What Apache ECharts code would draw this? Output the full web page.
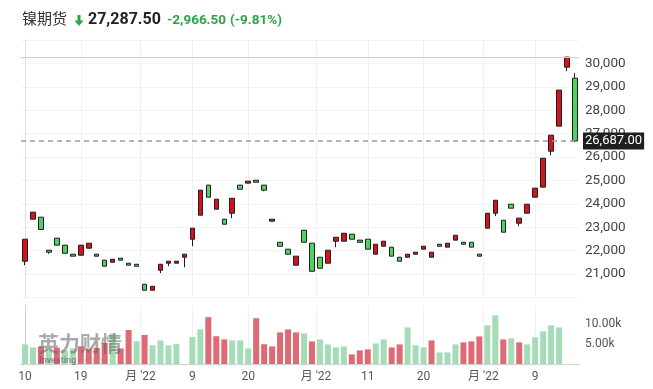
<!DOCTYPE html>
<html>
<head>
<meta charset="utf-8">
<script src="https://cdn.jsdelivr.net/npm/echarts@6/dist/echarts.min.js"></script>
<style>
  html, body { margin: 0; padding: 0; background: #fff; }
  #chart { width: 653px; height: 389px; }
</style>
</head>
<body>
<div id="chart"></div>
<script>
// 日线 OHLC（红涨绿跌）
const openPrices = [
  21550, 23345, 23430, 22020, 22535, 22235, 21850, 21805, 22105, 21850,
  21595, 21505, 21680, 21465, 21420, 20565, 20310, 21165, 21465, 21465,
  21720, 22490, 23515, 24800, 23770, 23345, 23600, 24800, 24885, 25010,
  24800, 23260, 22360, 22065, 21380, 22875, 22320, 21720, 21465, 22405,
  22405, 22705, 22450, 22490, 21850, 22190, 22150, 21720, 21720, 21850,
  22065, 21720, 22275, 22150, 22450, 22360, 22360, 21850, 22960, 23600,
  23300, 23985, 23175, 23600, 24285, 24715, 26250, 27320, 29840, 29370
];
const closePrices = [
  22490, 23645, 22905, 21935, 22235, 21890, 21765, 22235, 22320, 21765,
  21335, 21635, 21595, 21380, 21335, 20310, 20480, 21420, 21550, 21550,
  21850, 22960, 24585, 24285, 24200, 23130, 24240, 24625, 24970, 24925,
  24585, 23345, 22190, 21850, 21765, 22360, 21120, 21250, 22020, 22575,
  22745, 22490, 22360, 22065, 22275, 22405, 21765, 21550, 21850, 21935,
  22190, 21935, 22190, 22320, 22660, 22275, 22150, 21765, 23600, 24155,
  22790, 23815, 23390, 23985, 24670, 25950, 26935, 28860, 30270, 26687
];
const lowPrices = [
  21380, 23345, 22905, 21870, 22235, 21890, 21765, 21805, 22105, 21765,
  21335, 21505, 21595, 21380, 21335, 20310, 20310, 21040, 21335, 21465,
  21295, 22190, 23515, 24285, 23770, 23130, 23390, 24625, 24885, 24925,
  24540, 23260, 22190, 21850, 21380, 22360, 21120, 21250, 21465, 22150,
  22405, 22490, 22360, 22065, 21850, 22190, 21765, 21550, 21720, 21850,
  22065, 21720, 22190, 22150, 22450, 22275, 22150, 21765, 22960, 23475,
  22790, 23815, 23045, 23600, 24285, 24715, 26080, 27320, 29670, 26635
];
const highPrices = [
  22490, 23645, 23430, 22020, 22535, 22235, 21850, 22235, 22320, 21850,
  21595, 21635, 21680, 21465, 21420, 20565, 20480, 21420, 21550, 21550,
  21850, 22960, 24585, 24800, 24200, 23345, 24240, 24800, 24970, 25010,
  24800, 23345, 22360, 22065, 21765, 22875, 22320, 21720, 22020, 22575,
  22745, 22705, 22450, 22490, 22275, 22405, 22150, 21720, 21850, 21935,
  22190, 21935, 22275, 22320, 22660, 22360, 22360, 21850, 23600, 24155,
  23300, 23985, 23390, 23985, 24670, 25950, 26935, 28860, 30270, 29585
];
const volumes = [
  4900, 4150, 4300, 3600, 4000, 3400, 3900, 4400, 3800, 4000,
  5250, 7650, 3900, 8500, 5650, 7250, 4650, 5900, 4650, 5000,
  null, 6750, 8650, 11700, 6950, 6150, 5900, 5900, 3900, 11450,
  4950, 4400, 7900, 8650, 7900, 7650, 5650, 6150, 4900, 4150,
  4400, 2400, 3400, 3650, 5150, 6150, 4150, 4900, 9150, 4650,
  4150, 5900, 2900, 2900, 4900, 5400, 5650, 6900, 9650, 12150,
  6150, 6400, 5400, 4900, 6650, 8150, 9650, 9150, null, null
];
// 1 = 红, 0 = 绿
const volumeUp = [
  0, 0, 1, 0, 1, 0, 0, 1, 1, 1,
  1, 0, 1, 1, 0, 1, 0, 0, 0, 0,
  0, 0, 0, 1, 1, 1, 0, 0, 0, 1,
  1, 1, 1, 1, 1, 0, 1, 0, 0, 0,
  0, 1, 1, 1, 0, 0, 1, 1, 0, 0,
  0, 1, 0, 0, 0, 1, 1, 1, 0, 0,
  1, 0, 1, 0, 0, 0, 0, 0, 0, 0
];
const tickPositions = [0, 7, 14.5, 21, 28, 36.5, 43, 50, 57.5, 64];
const tickLabels = ['10', '19', "月 '22", '9', '20', "月 '22", '11', '20', "月 '22", '9'];
const lastPrice = 26687;
const prevClose = 30254;

const categories = openPrices.map((_, i) => String(i));
const UP = '#d3141f';
const DOWN = '#4fd25f';
const VOL_UP = '#e06a73';
const VOL_DOWN = '#a6dbb8';
const GREEN_TXT = '#2ea447';
const FONT = 'Roboto, "Noto Sans CJK SC", sans-serif';

const chart = echarts.init(document.getElementById('chart'));

const option = {
  animation: false,
  textStyle: { fontFamily: FONT },
  graphic: [
    { type: 'text', left: 22, top: 11, style: { text: '镍期货', font: '15px "Noto Sans CJK SC", sans-serif', fill: '#333' } },
    {
      type: 'polygon',
      shape: { points: [[77.5, 15], [80.5, 15], [80.5, 20.5], [83.5, 20.5], [79, 26], [74.5, 20.5], [77.5, 20.5]] },
      style: { fill: GREEN_TXT }
    },
    { type: 'text', left: 88, top: 12, style: { text: '27,287.50', font: 'bold 16px Roboto, sans-serif', fill: '#222' } },
    { type: 'text', left: 167, top: 14, style: { text: '-2,966.50', font: 'bold 13.5px Roboto, sans-serif', fill: GREEN_TXT } },
    { type: 'text', left: 230, top: 14, style: { text: '(-9.81%)', font: 'bold 13.5px Roboto, sans-serif', fill: GREEN_TXT } },
    // 水印
    { type: 'text', left: 38, top: 333, z: 10, style: { text: '英力财情', font: 'bold 21px "Noto Sans CJK SC", sans-serif', fill: 'rgba(100,100,100,0.55)' } },
    { type: 'text', left: 39, top: 356, z: 10, style: { text: 'Investing', font: 'bold 9px Roboto, sans-serif', fill: 'rgba(90,90,90,0.6)' } },
    { type: 'text', left: 82, top: 356, z: 10, style: { text: '.com', font: '9px Roboto, sans-serif', fill: 'rgba(150,150,150,0.5)' } }
  ],
  grid: [
    { left: 21, right: 74, top: 40, height: 257.5 },
    { left: 21, right: 74, top: 305, height: 59 }
  ],
  xAxis: [
    { type: 'category', gridIndex: 0, data: categories, show: false },
    {
      type: 'value', gridIndex: 0, min: -0.5, max: 69.5,
      axisLine: { show: false },
      axisTick: { show: false, customValues: tickPositions },
      axisLabel: { show: false, customValues: tickPositions },
      splitLine: { show: true, lineStyle: { color: '#f1f1f1' } }
    },
    {
      type: 'category', gridIndex: 1, data: categories, position: 'top',
      axisLine: { show: true, lineStyle: { color: '#d0d0d0' } },
      axisTick: { show: false }, axisLabel: { show: false }
    },
    {
      type: 'value', gridIndex: 1, min: -0.5, max: 69.5, position: 'bottom',
      axisLine: { show: true, onZero: false, lineStyle: { color: '#d0d0d0' } },
      axisTick: { show: false, customValues: tickPositions },
      axisLabel: {
        customValues: tickPositions,
        color: '#555', fontSize: 12, margin: 7,
        formatter: (v) => {
          const k = tickPositions.indexOf(v);
          return k >= 0 ? tickLabels[k] : '';
        }
      },
      splitLine: { show: true, lineStyle: { color: '#f1f1f1' } }
    }
  ],
  yAxis: [
    {
      type: 'value', gridIndex: 0, position: 'right',
      min: 20000, max: 31000, interval: 1000,
      axisLine: { show: true, lineStyle: { color: '#e0e0e0' } },
      axisTick: { show: false },
      axisLabel: {
        color: '#444', fontSize: 13.5, margin: 6,
        formatter: (v) => (v >= 21000 && v <= 30000 ? v.toLocaleString('en-US') : '')
      },
      splitLine: { lineStyle: { color: '#f4f4f4' } }
    },
    {
      type: 'value', gridIndex: 1, position: 'right',
      min: 0, max: 14750, interval: 5000,
      axisLine: { show: true, lineStyle: { color: '#d0d0d0' } },
      axisTick: { show: false },
      axisLabel: {
        color: '#555', fontSize: 12, margin: 6,
        formatter: (v) => (v === 5000 || v === 10000 ? (v / 1000).toFixed(2) + 'k' : '')
      },
      splitLine: { show: false }
    }
  ],
  series: [
    {
      type: 'candlestick',
      xAxisIndex: 0,
      yAxisIndex: 0,
      barWidth: 5,
      data: openPrices.map((o, i) => [o, closePrices[i], lowPrices[i], highPrices[i]]),
      itemStyle: {
        color: UP, color0: DOWN,
        borderColor: '#1e1e1e', borderColor0: '#1e1e1e', borderWidth: 1
      },
      markLine: {
        silent: true,
        symbol: 'none',
        data: [
          { yAxis: prevClose, lineStyle: { color: '#f5bcc4', type: 'solid', width: 1 }, label: { show: false } },
          {
            yAxis: lastPrice,
            lineStyle: { color: '#9b9b9b', type: [5, 4], width: 1.5 },
            label: {
              show: true, position: 'end', distance: 4,
              formatter: lastPrice.toLocaleString('en-US', { minimumFractionDigits: 2 }),
              backgroundColor: '#1f1f1f', color: '#fff', fontSize: 13, padding: [2, 2]
            }
          }
        ]
      }
    },
    {
      type: 'bar',
      xAxisIndex: 2,
      yAxisIndex: 1,
      barWidth: 6,
      data: volumes.map((v, i) => ({ value: v, itemStyle: { color: volumeUp[i] ? VOL_UP : VOL_DOWN } }))
    }
  ]
};

chart.setOption(option);
window.addEventListener('resize', chart.resize);
</script>
</body>
</html>
